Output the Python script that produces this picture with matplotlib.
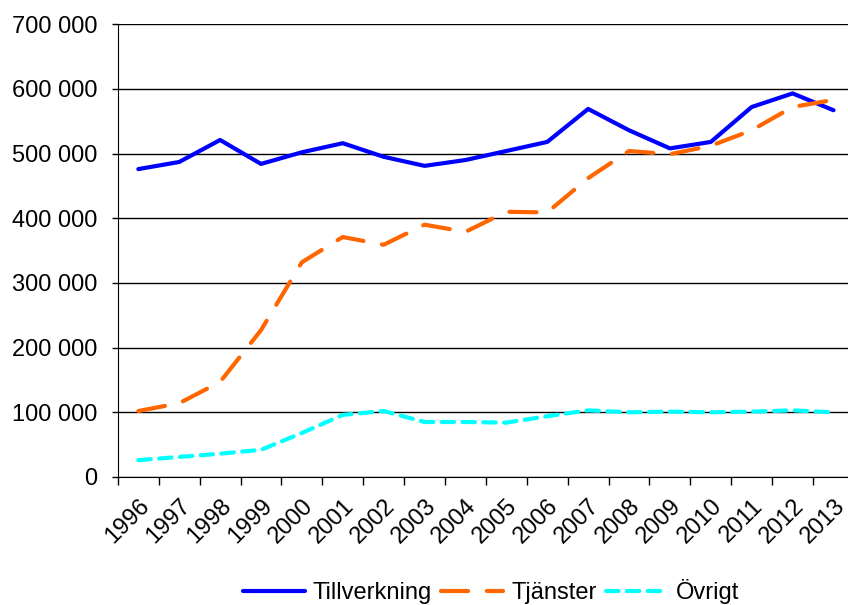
import matplotlib.pyplot as plt
from matplotlib.ticker import FuncFormatter, MultipleLocator
import numpy as np

# Data
years = [str(y) for y in range(1996, 2014)]
tillverkning = [476000, 487000, 521000, 484000, 502000, 516000, 495000, 481000, 490000,
                504000, 518000, 569000, 536000, 508000, 518000, 572000, 593000, 567000]
tjanster = [102000, 114000, 147000, 227000, 332000, 371000, 359000, 390000, 379000,
            410000, 409000, 462000, 504000, 499000, 512000, 536000, 572000, 583000]
ovrigt = [26000, 31000, 36000, 42000, 68000, 96000, 102000, 85000, 85000,
          84000, 94000, 103000, 100000, 101000, 100000, 101000, 103000, 100000]

plt.rcParams['font.family'] = ['Liberation Sans', 'DejaVu Sans']

fig = plt.figure(figsize=(8.48, 6.05), dpi=100)
ax = fig.add_axes([0.139, 0.2116, 0.868, 0.7484])

x = np.arange(len(years))
ax.plot(x, tillverkning, color='#0000FF', lw=3, solid_capstyle='round',
        solid_joinstyle='round', label='Tillverkning', zorder=3)
ax.plot(x, tjanster, color='#FF6600', lw=3, dashes=(6.5, 4.5), dash_capstyle='round',
        label='Tjänster', zorder=3)
ax.plot(x, ovrigt, color='#00FFFF', lw=3, dashes=(3, 2), dash_capstyle='round',
        label='Övrigt', zorder=3)

# y axis
ax.set_ylim(0, 700000)
ax.yaxis.set_major_locator(MultipleLocator(100000))
ax.yaxis.set_major_formatter(FuncFormatter(lambda v, p: f"{int(v):,}".replace(',', ' ')))
ax.grid(axis='y', color='black', lw=1)
ax.set_axisbelow(True)

# x axis: category axis with tick marks between categories
ax.set_xlim(-0.5, len(years) - 0.5)
ax.set_xticks(x)
ax.set_xticklabels(years, rotation=45, ha='right', rotation_mode='anchor')
ax.set_xticks(np.arange(-0.5, len(years)), minor=True)
ax.tick_params(axis='x', which='major', length=0, pad=13, labelsize=17)
ax.tick_params(axis='x', which='minor', length=6, width=1, color='black')
ax.tick_params(axis='y', length=4.5, width=1, pad=10, labelsize=17)

for side in ['top', 'right']:
    ax.spines[side].set_visible(False)
ax.spines['left'].set_color('black')
ax.spines['bottom'].set_color('black')

ax.legend(loc='center', bbox_to_anchor=(0.507, -0.253), ncol=3, frameon=False,
          fontsize=17, handlelength=2.6, columnspacing=0.4, handletextpad=0.35)

plt.savefig('out.png', dpi=100)
